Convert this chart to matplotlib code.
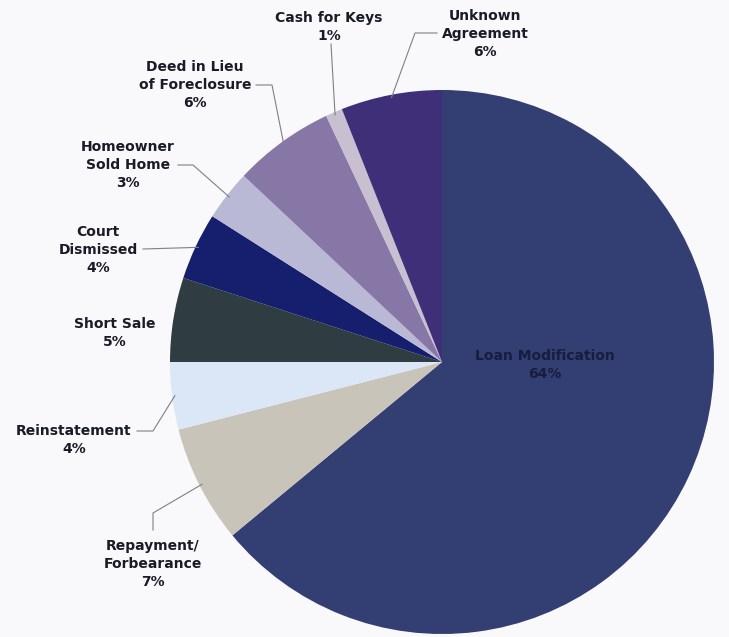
import numpy as np
import matplotlib
matplotlib.use('Agg')
import matplotlib.pyplot as plt

# ── data ────────────────────────────────────────────
labels = ['Loan Modification', 'Repayment/\nForbearance', 'Reinstatement',
          'Short Sale', 'Court\nDismissed', 'Homeowner\nSold Home',
          'Deed in Lieu\nof Foreclosure', 'Cash for Keys', 'Unknown\nAgreement']
shares = [64, 7, 4, 5, 4, 3, 6, 1, 6]
colors = ['#333f73', '#c9c4b9', '#dbe7f6', '#2f3c41', '#151f6e',
          '#b9b8d5', '#8777a7', '#c8bfd1', '#3e2f78']

# label text centres (px, top origin) and leader elbows
W, H = 729, 637
text_xy = [(545, 365), (153, 564), (74, 440), (115, 333), (98, 250),
           (128, 165), (195, 85), (329, 27), (485, 34)]
elbows = [None, [(153, 530), (153, 513)], [(137, 431), (153, 431)], None,
          [(143, 249)], [(178, 165), (193, 165)], [(256, 85), (272, 85)],
          [(331, 44)], [(437, 33), (415, 33)]]

cx, cy, R = 442, 362, 272

fig = plt.figure(figsize=(W / 100, H / 100), dpi=100)
fig.patch.set_facecolor('#f9f9fb')
ax = fig.add_axes([0, 0, 1, 1])
ax.set_facecolor('#f9f9fb')

wedges, _ = ax.pie(shares, colors=colors, startangle=90, counterclock=False,
                   center=(cx, H - cy), radius=R,
                   wedgeprops=dict(linewidth=0))
ax.set_xlim(0, W)
ax.set_ylim(0, H)
ax.set_aspect('equal')
ax.axis('off')

for i, (w, lab, v) in enumerate(zip(wedges, labels, shares)):
    tx, ty = text_xy[i]
    color = '#161d3e' if i == 0 else '#1b1b28'
    ax.text(tx, H - ty, f'{lab}\n{v}%', ha='center', va='center',
            fontsize=10, fontweight='bold', color=color,
            family='DejaVu Sans', linespacing=1.35)
    if elbows[i]:
        mid = np.deg2rad((w.theta1 + w.theta2) / 2)
        ex = cx + R * 0.99 * np.cos(mid)
        ey = (H - cy) + R * 0.99 * np.sin(mid)
        pts = [(x, H - y) for x, y in elbows[i]] + [(ex, ey)]
        xs, ys = zip(*pts)
        ax.plot(xs, ys, color='#7f7f86', lw=0.8)

fig.savefig('out.png', dpi=100, facecolor=fig.get_facecolor())
